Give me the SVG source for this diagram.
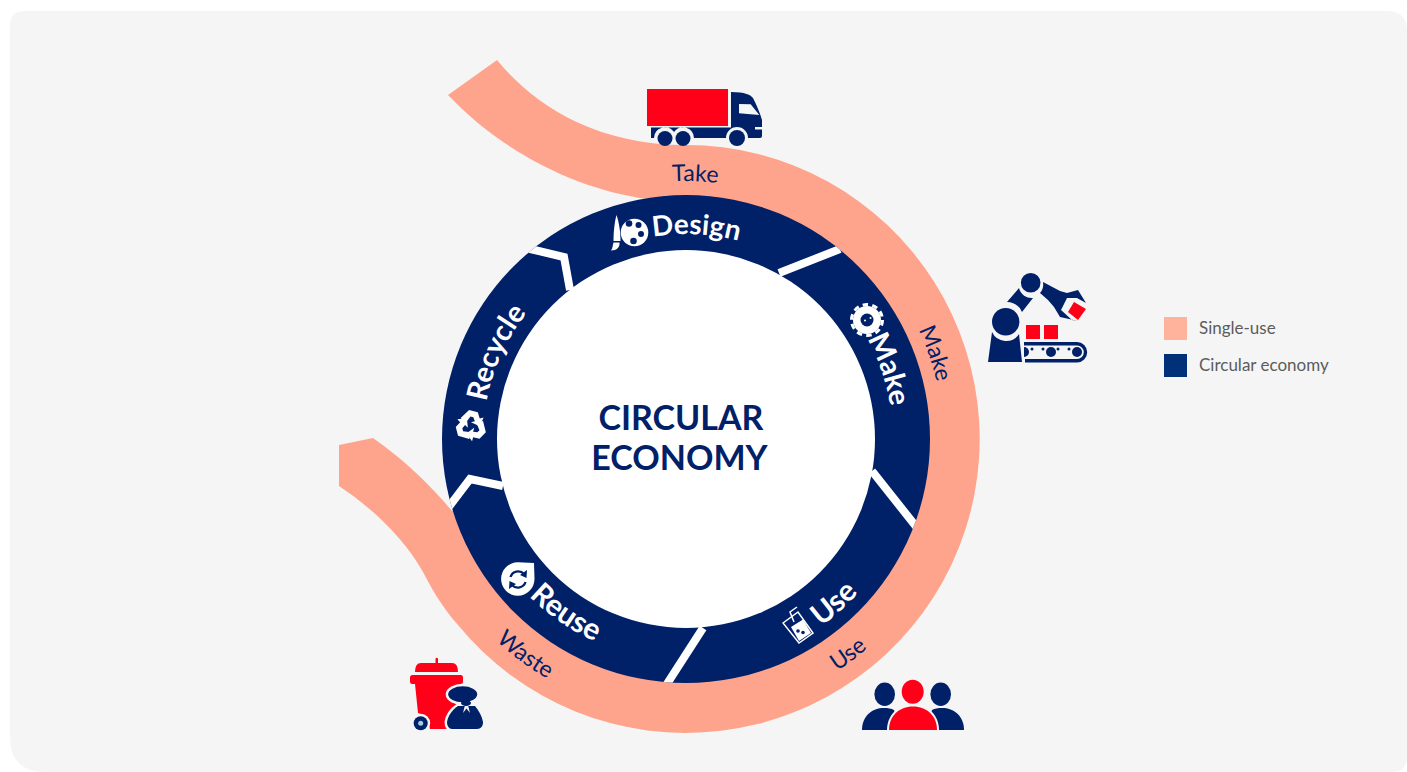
<svg xmlns="http://www.w3.org/2000/svg" width="1407" height="772" viewBox="0 0 1407 772">
<style>
.n{fill:#002068}.r{fill:#ff0018}.s{fill:#ffa48c}.w{fill:#fff}.b{fill:#f5f5f5}
text{font-family:"Lato","Open Sans","Liberation Sans",sans-serif}
.seg{fill:#fff;font-size:29px;font-weight:700;text-anchor:middle}
.lab{fill:#002068;font-size:23px;text-anchor:middle}
.leg{fill:#5c5c5c;font-size:17px}
.title{fill:#002068;font-size:34px;font-weight:700;text-anchor:middle}
.div{fill:none;stroke:#fff;stroke-width:8;stroke-linejoin:miter}
.gap{stroke:#f5f5f5;stroke-width:5;paint-order:stroke}
</style>
<defs>
<clipPath id="ring"><circle cx="686" cy="439" r="244"/></clipPath>
<path id="pDesign" d="M536.1,299.2 A205,205 0 0 1 849.7,315.6"/>
<path id="pMake" d="M760.2,245.8 A207,207 0 0 1 863.4,545.6"/>
<path id="pRecycle" d="M505.1,531.2 A203,203 0 0 1 626.6,244.9"/>
<path id="pUse" d="M653.9,667.7 A231,231 0 0 0 916.9,431"/>
<path id="pReuse" d="M464.9,459.9 A222,222 0 0 0 745,653"/>
<path id="lTake" d="M494.3,266.4 A258,258 0 0 1 889.3,280.2"/>
<path id="lMake" d="M778.1,199.1 A257,257 0 0 1 906.3,571.4"/>
<path id="lUse" d="M623.7,708.8 A277,277 0 0 0 962.6,453.5"/>
<path id="lWaste" d="M409.5,455 A277,277 0 0 0 749.7,708.5"/>
<path id="rArrow" d="M-12,-5 L-6,-15 H3 L6.500,-9.500 L10,-11.500 L8.500,-2 L-1,-3.500 L2.500,-5.500 L0,-9 H-3 L-6,-1.500 Z"/>
</defs>
<path class="b" d="M25,11 H1387 Q1407,11 1407,31 V757 Q1407,772 1392,772 H45 Q10,772 10,737 V26 Q10,11 25,11 Z"/>

<g id="connectors">
<path id="single-use-band" class="s" d="M497,60 C530,100 590,145 686,145 A294,294 0 1 1 458,625 C440,605 430,585 423,572 C405,540 375,510 339,486 V445 L373,438 C405,460 435,490 452,511 L686,439 L647,199 C580,190 505,155 448,95 Z"/>
</g>

<g id="ring-base">
<circle class="n" cx="686" cy="439" r="244"/>
<g clip-path="url(#ring)">
<path class="div" d="M779,273 L840,249"/>
<path class="div" d="M872,471 L918,529"/>
<path class="div" d="M703,628 L665,687"/>
<path class="div" d="M448,508 L470,479 L503,486"/>
<path class="div" d="M526,248 L564,257 L570,290"/>
</g>
<circle class="w" cx="686" cy="439" r="189"/>
</g>

<g id="center-title">
<text class="title" x="681" y="430">CIRCULAR</text>
<text class="title" x="679.500" y="469.500">ECONOMY</text>
</g>

<g id="node-design">
<text class="seg" style="font-size:28px"><textPath href="#pDesign" startOffset="49.800%">Design</textPath></text>
<path class="w" d="M616.500,215 C619,222 620.500,232 620.500,241 H613.500 C613.500,232 614.500,222 616.500,215 Z"/>
<path class="w" d="M613.500,242.500 H619.500 C620,247 617,250.500 611,250.500 C613,248 612.500,245 613.500,242.500 Z"/>
<circle class="w" cx="634.500" cy="232.500" r="13.800"/>
<g class="n"><circle cx="629" cy="223.500" r="3.300"/><circle cx="638.500" cy="225" r="3"/><circle cx="641" cy="234" r="3"/><circle cx="633.500" cy="241" r="3.300"/></g>
</g>

<g id="node-make">
<text class="seg"><textPath href="#pMake" startOffset="50%">Make</textPath></text>
<circle class="w" cx="867" cy="320" r="14"/>
<circle cx="867" cy="320" r="15.500" fill="none" stroke="#fff" stroke-width="3" stroke-dasharray="5.500 4.240"/>
<circle class="n" cx="867" cy="320" r="6.500"/>
<circle class="w" cx="865" cy="320.500" r="1"/><circle class="w" cx="870.500" cy="318" r="1"/>
</g>

<g id="node-use">
<text class="seg" style="font-size:30px"><textPath href="#pUse" startOffset="50%">Use</textPath></text>
<path d="M783,623 L798,612 L813,633 L799,643 Z" fill="none" stroke="#fff" stroke-width="1.500"/>
<path class="w" d="M791,627 L803,619.500 L811,633 L799,641 Z"/>
<circle class="n" cx="798" cy="631" r="1.800"/><circle class="n" cx="803" cy="632.500" r="1.800"/>
<path d="M794,622 L790,612 L797,607" fill="none" stroke="#fff" stroke-width="1.500"/>
</g>

<g id="node-reuse">
<text class="seg" style="font-size:30px"><textPath href="#pReuse" startOffset="50%">Reuse</textPath></text>
<path class="w" d="M534,563 L518,562.300 A16.700,16.700 0 1 0 534.500,579 Z"/>
<path d="M510.500,577 A8,8 0 0 1 524,574" fill="none" stroke="#002068" stroke-width="2.400"/>
<path class="n" d="M527,570 L526.500,578 L520,575 Z"/>
<path d="M525.500,582 A8,8 0 0 1 512,585" fill="none" stroke="#002068" stroke-width="2.400"/>
<path class="n" d="M509,589 L509.500,581 L516,584 Z"/>
</g>

<g id="node-recycle">
<text class="seg"><textPath href="#pRecycle" startOffset="51.500%">Recycle</textPath></text>
<g class="w" transform="translate(471,426)"><use href="#rArrow" transform="rotate(15)"/><use href="#rArrow" transform="rotate(135)"/><use href="#rArrow" transform="rotate(255)"/></g>
</g>

<g id="node-take">
<text class="lab"><textPath href="#lTake" startOffset="50%">Take</textPath></text>
<rect class="r" x="647" y="89" width="81" height="37"/>
<path class="n" d="M651,127.500 H731 V92 C745,92 751,95 753,98 C757,106 760,113 762,120 V127 H755 V129.500 H762 V136 Q762,138 760,138 H748 A11,11 0 0 0 726,138 H694 A11,11 0 0 0 674,132 A11,11 0 0 0 654,138 H651 Z"/>
<path class="b" d="M739,104 L750.700,104.300 L759.300,115 L739,113.300 Z"/>
<circle class="n" cx="665" cy="138.500" r="7.500"/><circle class="n" cx="683" cy="138.500" r="7.500"/><circle class="n" cx="737" cy="138" r="8"/>
</g>

<g id="node-robot">
<text class="lab"><textPath href="#lMake" startOffset="50%">Make</textPath></text>
<path class="n" d="M992,332 A15.500,15.500 0 0 0 1019,334 L1022,362 H988 Z"/>
<circle class="n" cx="1005.700" cy="321.700" r="13.700"/>
<path class="n" d="M1007,302 L1019,288 A13,13 0 0 0 1033,298 L1022,312 A17,17 0 0 0 1007,302 Z"/>
<circle class="n" cx="1030.700" cy="282.700" r="9.800"/>
<path class="n" d="M1043,282 L1060,291 L1067,293 L1078,290 L1086,303 L1077,298 L1067,298 L1061,310 L1072,320 L1078,321 L1060,317 L1054,307 L1048,300 L1040,293 A13,13 0 0 0 1043,282 Z"/>
<path class="r" d="M1074,302 L1086,309 L1078,320 L1068,312 Z"/>
<rect class="r" x="1026" y="325" width="14" height="14"/><rect class="r" x="1044" y="325" width="14" height="14"/>
<path d="M1024,343.700 H1077 A8.500,8.500 0 0 1 1077,360.700 H1025" fill="none" stroke="#002068" stroke-width="3.400"/>
<path class="n" d="M1024,347 A5,5 0 0 1 1024,357 Z"/>
<circle class="n" cx="1051" cy="352" r="5"/><circle class="n" cx="1077" cy="352" r="5"/>
<circle class="n" cx="1032" cy="349" r="1.500"/><circle class="n" cx="1043" cy="349" r="1.500"/><circle class="n" cx="1058" cy="349" r="1.500"/><circle class="n" cx="1069" cy="349" r="1.500"/>
</g>

<g id="node-people">
<text class="lab"><textPath href="#lUse" startOffset="50%">Use</textPath></text>
<ellipse class="n" cx="884.700" cy="694.300" rx="10.300" ry="11.700"/><ellipse class="n" cx="940.700" cy="694.300" rx="10.300" ry="11.700"/>
<path class="n" d="M862,730 C862,716 872,708 884,708 C888,708 891,708.500 894,710 L900,730 Z"/>
<path class="n" d="M964,730 C964,716 954,708 942,708 C938,708 935,708.500 932,710 L926,730 Z"/>
<ellipse class="r" cx="912.700" cy="691.700" rx="11" ry="12"/>
<path class="b" d="M887,730 C887,716 897,704.500 913,704.500 C929,704.500 939,716 939,730 Z"/>
<path class="r" d="M889,730 C889,716 899,706.500 913,706.500 C927,706.500 937,716 937,730 Z"/>
</g>

<g id="node-bin">
<text class="lab"><textPath href="#lWaste" startOffset="50%">Waste</textPath></text>
<path class="r" d="M435.500,663 V658.500 Q436.700,656.800 438,658.500 V663 H452 Q458,663 458,672 H415 Q415,663 421,663 Z"/>
<rect class="r" x="410" y="675" width="53" height="9" rx="2.500"/>
<path class="r" d="M415,684 H461 L452,729 H430 L426,716 L418,713 Z"/>
<circle class="n gap" cx="420.700" cy="723.300" r="7"/>
<circle cx="420.700" cy="723.300" r="2.500" fill="#9fd0e8"/>
<path class="n gap" d="M458,706 H475 C479,711 482,716 483,722 C483,726 481,729 477,729 H452 C449,729 447,726 447,722 C448,716 452,710 458,706 Z"/>
<path class="b" d="M463,713 L465,705 H468 L470,713 L466.500,708.500 Z"/>
<ellipse class="n gap" cx="462.700" cy="694.300" rx="14.500" ry="8"/>
<ellipse class="n" cx="466" cy="703" rx="5" ry="3"/>
</g>

<g id="legend">
<rect x="1164" y="317" width="23" height="23" fill="#ffb29c"/>
<text class="leg" x="1199" y="334">Single-use</text>
<rect x="1164" y="354" width="23" height="23" fill="#003078"/>
<text class="leg" x="1199" y="371">Circular economy</text>
</g>
</svg>
